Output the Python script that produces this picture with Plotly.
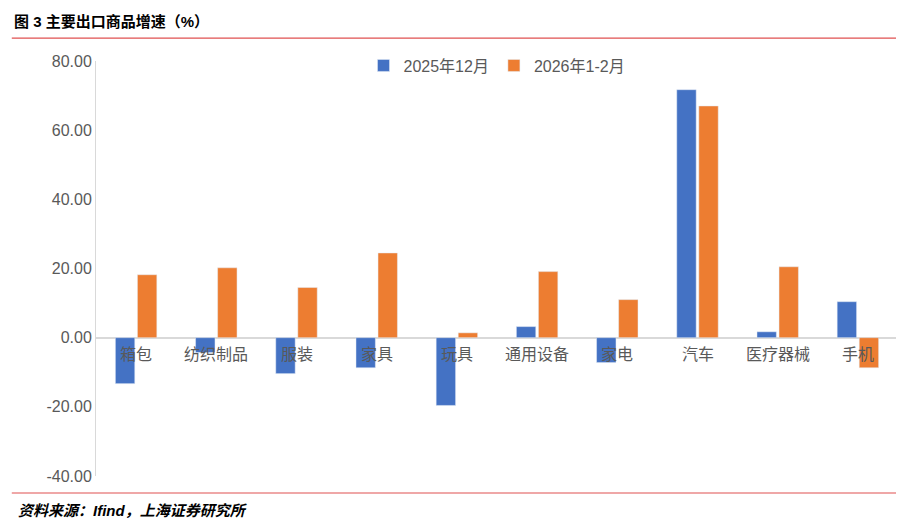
import plotly.graph_objects as go

categories = ["箱包", "纺织制品", "服装", "家具", "玩具", "通用设备", "家电", "汽车", "医疗器械", "手机"]
dec2025 = [-13.3, -4.3, -10.4, -8.7, -19.6, 3.2, -7.2, 71.7, 1.7, 10.4]
janfeb2026 = [18.2, 20.2, 14.5, 24.5, 1.4, 19.1, 11.0, 67.0, 20.5, -8.7]
tickvals = [-40, -20, 0, 20, 40, 60, 80]
ticktext = ["%.2f" % v for v in tickvals]

font = "Liberation Sans, Noto Sans CJK SC"
fig = go.Figure()
fig.add_bar(x=categories, y=dec2025, name="2025年12月", marker_color="#4472C4")
fig.add_bar(x=categories, y=janfeb2026, name="2026年1-2月", marker_color="#ED7D31")

for c in categories:
    fig.add_annotation(x=c, y=0, xref="x", yref="y", text=c, showarrow=False,
                       yanchor="top", yshift=-6, font=dict(size=16, color="#595959", family=font))

fig.add_annotation(x=-0.105, y=1.094, xref="paper", yref="paper", xanchor="left", yanchor="middle",
                   text="<b>图 3 主要出口商品增速（%）</b>", showarrow=False,
                   font=dict(size=15, color="#000", family=font))
fig.add_annotation(x=-0.1, y=-0.084, xref="paper", yref="paper", xanchor="left", yanchor="middle",
                   text="<b><i>资料来源：Ifind，上海证券研究所</i></b>", showarrow=False,
                   font=dict(size=15, color="#000", family=font))
for yy in (1.055, -0.041):
    fig.add_shape(type="line", xref="paper", yref="paper", x0=-0.105, x1=1.012, y0=yy, y1=yy,
                  line=dict(color="#E05050", width=1.2))

fig.update_layout(
    width=904, height=519, paper_bgcolor="white", plot_bgcolor="white",
    margin=dict(l=88, r=14, t=53, b=51),
    barmode="group", bargap=0.45, bargroupgap=0.12,
    font=dict(family=font, color="#595959"),
    legend=dict(orientation="h", x=0.5, xanchor="center", y=1.03, yanchor="top",
                font=dict(size=16, color="#595959")),
    xaxis=dict(showticklabels=False, showline=False, ticks=""),
    yaxis=dict(range=[-40, 80], tickvals=tickvals, ticktext=ticktext, showgrid=False,
               showline=True, linecolor="#D9D9D9", zeroline=True, zerolinecolor="#D9D9D9",
               tickfont=dict(size=16, color="#595959")),
)
fig.write_html("out.html")
